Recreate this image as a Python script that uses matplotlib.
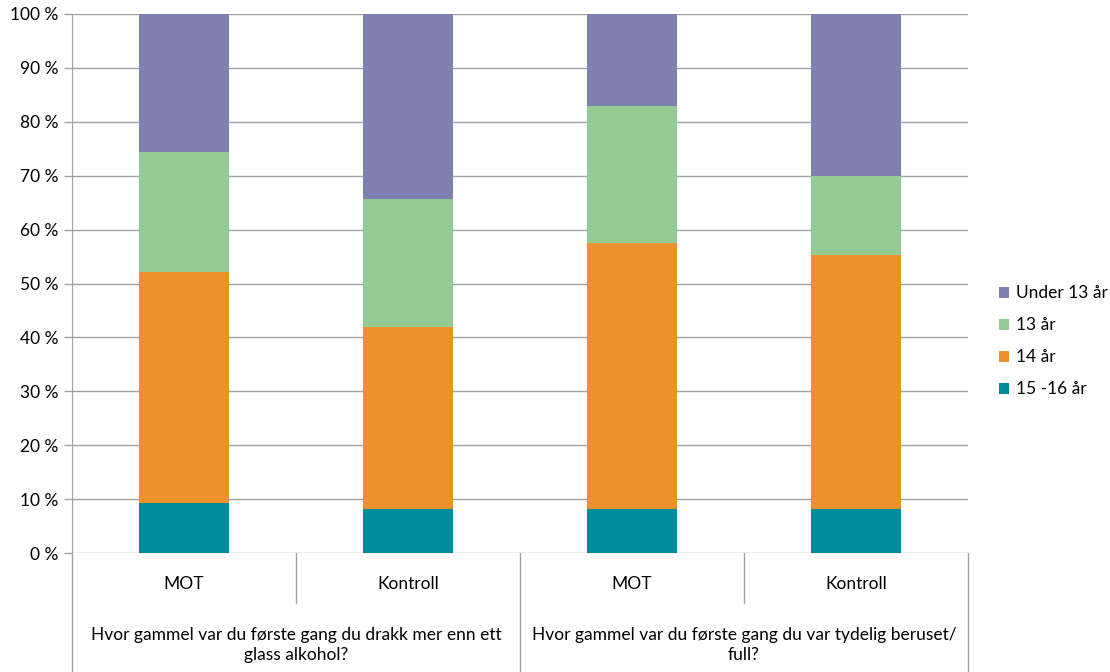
import numpy as np
import matplotlib.pyplot as plt

plt.rcParams['font.family'] = ['Lato', 'DejaVu Sans']

grupper = ["MOT", "Kontroll", "MOT", "Kontroll"]
sporsmal = ["Hvor gammel var du første gang du drakk mer enn ett\nglass alkohol?",
            "Hvor gammel var du første gang du var tydelig beruset/\nfull?"]
serier = ["15 -16 år", "14 år", "13 år", "Under 13 år"]
v_15_16 = [9.2, 8.1, 8.2, 8.2]
v_14 = [42.9, 33.8, 49.3, 47.1]
v_13 = [22.3, 23.8, 25.4, 14.6]
v_under13 = [25.6, 34.3, 17.1, 30.1]
farger = ["#008b9a", "#ec912e", "#94cb95", "#7f7fb0"]

fig = plt.figure(figsize=(11.1, 6.72), dpi=100)
ax = fig.add_axes([72/1110, 119/672, 896/1110, 539/672])

x = np.arange(len(grupper))
bunn = np.zeros(len(grupper))
handles = []
for navn, verdier, farge in zip(serier, [v_15_16, v_14, v_13, v_under13], farger):
    b = ax.bar(x, verdier, width=0.40, bottom=bunn, color=farge, label=navn, zorder=3)
    handles.append(b)
    bunn += np.array(verdier)

ax.set_xlim(-0.5, 3.5)
ax.set_ylim(0, 100)
ax.set_yticks(np.arange(0, 101, 10))
ax.set_yticklabels(["{} %".format(v) for v in range(0, 101, 10)], fontsize=12.5)
ax.yaxis.grid(True, color="#a0a0a0", linewidth=1, zorder=0)
ax.tick_params(axis="y", length=6, color="#a0a0a0", width=1, pad=4)
ax.tick_params(axis="x", length=0, labelbottom=False)
for s in ["top", "right", "bottom"]:
    ax.spines[s].set_visible(False)
ax.spines["left"].set_color("#a0a0a0")

# kategoritabell under aksen
lang = -119/539
kort = -50/539
trans = ax.get_xaxis_transform()
for xv, ned in [(-0.5, lang), (0.5, kort), (1.5, lang), (2.5, kort), (3.5, lang)]:
    ax.plot([xv, xv], [0, ned], transform=trans, color="#a0a0a0", lw=1, clip_on=False)
for i, g in enumerate(grupper):
    ax.text(i, -31/539, g, transform=trans, ha="center", va="center", fontsize=12.5)
for j, q in enumerate(sporsmal):
    ax.text(2*j + 0.5, -92/539, q, transform=trans, ha="center", va="center",
            fontsize=12.5, linespacing=1.3)

fig.legend(handles[::-1], serier[::-1], loc="center left", bbox_to_anchor=(983/1110, 0.492),
           frameon=False, fontsize=12.5, handlelength=0.6, handleheight=0.6,
           handletextpad=0.4, labelspacing=0.92)

fig.savefig("out.png", dpi=100)
